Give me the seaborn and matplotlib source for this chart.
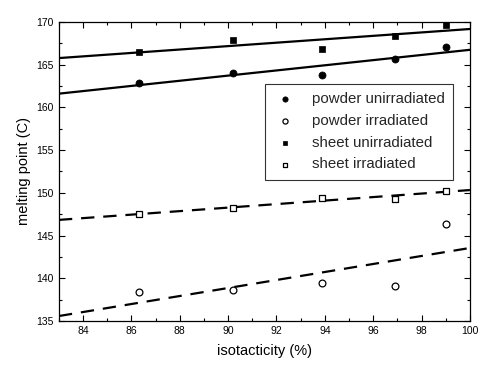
import numpy as np
import pandas as pd
import matplotlib
matplotlib.use("Agg")
import matplotlib.pyplot as plt
from matplotlib.ticker import MultipleLocator
import seaborn as sns

isotacticity = [86.3, 90.2, 93.9, 96.9, 99.0]
powder_unirradiated = [162.9, 164.0, 163.8, 165.7, 167.1]
powder_irradiated = [138.35, 138.6, 139.5, 139.1, 146.4]
sheet_unirradiated = [166.45, 167.9, 166.8, 168.3, 169.65]
sheet_irradiated = [147.5, 148.2, 149.45, 149.3, 150.25]

sns.set_theme(style="ticks")
plt.rcParams['font.family'] = ['Liberation Sans', 'DejaVu Sans']

fig = plt.figure(figsize=(4.79, 3.65), dpi=100)
ax = fig.add_axes([0.123, 0.1205, 0.858, 0.8195])
ax.set_xlim(83, 100)
ax.set_ylim(135, 170)

series = [
    ("powder unirradiated", powder_unirradiated, dict(marker="o", facecolor="black", edgecolor="black", s=26, linewidth=0.5), "-"),
    ("powder irradiated", powder_irradiated, dict(marker="o", facecolor="white", edgecolor="black", s=24, linewidth=0.9), "--"),
    ("sheet unirradiated", sheet_unirradiated, dict(marker="s", facecolor="black", edgecolor="black", s=22, linewidth=0.5), "-"),
    ("sheet irradiated", sheet_irradiated, dict(marker="s", facecolor="white", edgecolor="black", s=22, linewidth=0.9), "--"),
]

for label, vals, mk, ls in series:
    df = pd.DataFrame({"x": isotacticity, "y": vals})
    sns.regplot(data=df, x="x", y="y", ax=ax, ci=None, truncate=False,
                scatter=False, line_kws=dict(color="black", lw=1.6, ls=ls,
                                             dashes=(6, 4) if ls == "--" else (None, None)))
for label, vals, mk, ls in series:
    df = pd.DataFrame({"x": isotacticity, "y": vals})
    sns.scatterplot(data=df, x="x", y="y", ax=ax, label=label, zorder=3, **mk)

ax.set_xlim(83, 100)
ax.set_ylim(135, 170)
ax.xaxis.set_major_locator(MultipleLocator(2))
ax.xaxis.set_minor_locator(MultipleLocator(1))
ax.yaxis.set_major_locator(MultipleLocator(5))
ax.yaxis.set_minor_locator(MultipleLocator(2.5))
ax.tick_params(which="both", direction="in", top=True, right=True, colors="black", labelsize=7.5)
ax.tick_params(which="major", length=4, width=0.8)
ax.tick_params(which="minor", length=2, width=0.8)
for sp in ax.spines.values():
    sp.set_color("black")
    sp.set_linewidth(0.9)

ax.set_xlabel("isotacticity (%)", fontsize=10.5, color="black", labelpad=6)
ax.set_ylabel("melting point (C)", fontsize=10.5, color="black")

leg = ax.legend(loc="upper left", bbox_to_anchor=(0.501, 0.793), frameon=True,
                fontsize=10.8, handletextpad=1.0, borderpad=0.55, labelspacing=0.52,
                handlelength=1.6, markerscale=0.75,
                fancybox=False, edgecolor="black", borderaxespad=0)
leg.get_frame().set_linewidth(0.8)

fig.savefig("out.png", dpi=100)
